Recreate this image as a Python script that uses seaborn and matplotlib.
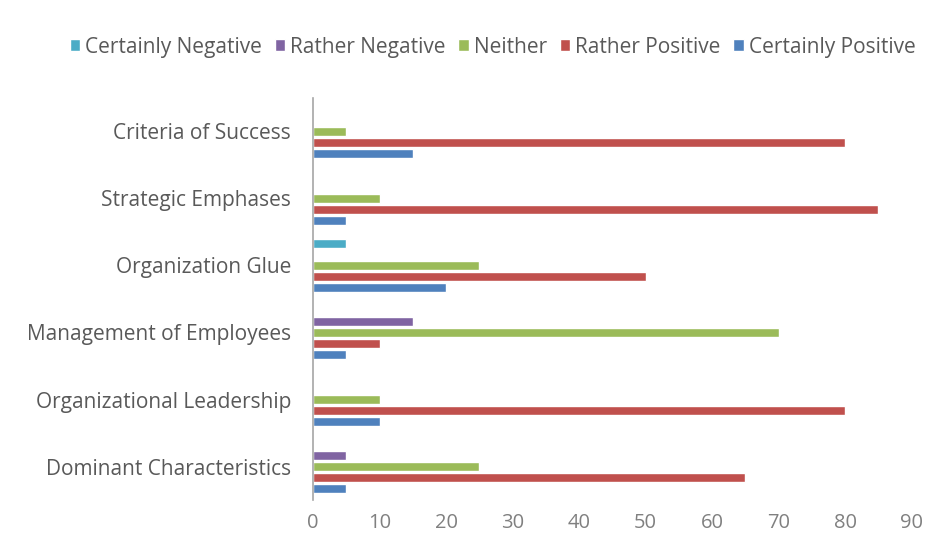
import numpy as np
import pandas as pd
import seaborn as sns
from matplotlib import pyplot as plt
from matplotlib.patches import Patch

categories = ['Criteria of Success', 'Strategic Emphases', 'Organization Glue',
              'Management of Employees', 'Organizational Leadership', 'Dominant Characteristics']
answers = ['Certainly Negative', 'Rather Negative', 'Neither', 'Rather Positive', 'Certainly Positive']

certainly_negative = [0, 0, 5, 0, 0, 0]
rather_negative = [0, 0, 0, 15, 0, 5]
neither = [5, 10, 25, 70, 10, 25]
rather_positive = [80, 85, 50, 10, 80, 65]
certainly_positive = [15, 5, 20, 5, 10, 5]

colours = ['#4BACC6', '#8064A2', '#9BBB59', '#C0504D', '#4F81BD']

rows = []
for ans, vals in zip(answers, [certainly_negative, rather_negative, neither,
                               rather_positive, certainly_positive]):
    for cat, v in zip(categories, vals):
        rows.append({'category': cat, 'answer': ans, 'value': v})
df = pd.DataFrame(rows)

sns.set_style('white')
plt.rcParams['font.family'] = ['Open Sans', 'DejaVu Sans']

fig = plt.figure(figsize=(9.35, 5.43), dpi=100)
ax = fig.add_axes([0.335, 0.079, 0.64, 0.741])

sns.barplot(data=df, x='value', y='category', hue='answer', order=categories,
            hue_order=answers, palette=colours, orient='h', width=0.82, gap=0.18,
            saturation=1, legend=False, ax=ax)

ax.set_xlim(0, 90)
ax.set_ylim(5.5, -0.5)
ax.set_xticks(range(0, 91, 10))
ax.set_xlabel('')
ax.set_ylabel('')
ax.tick_params(axis='y', length=0, colors='#595959', labelsize=15, pad=16)
ax.tick_params(axis='x', length=0, colors='#808080', labelsize=14.5, pad=9)
for s in ['top', 'right', 'bottom']:
    ax.spines[s].set_visible(False)
ax.spines['left'].set_color('#A6A6A6')
ax.spines['left'].set_linewidth(1.2)

handles = [Patch(facecolor=c, label=a) for a, c in zip(answers, colours)]
fig.legend(handles=handles, loc='center', bbox_to_anchor=(0.527, 0.913), ncol=5,
           frameon=False, fontsize=15, handlelength=0.5, handleheight=0.5,
           handletextpad=0.25, columnspacing=0.6, labelcolor='#595959')

fig.savefig('out.png', dpi=100)
